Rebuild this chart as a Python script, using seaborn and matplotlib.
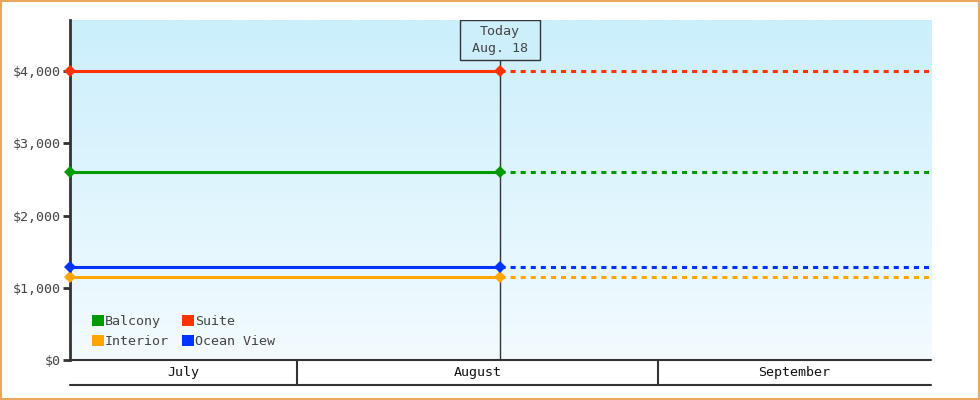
import numpy as np
import pandas as pd
import matplotlib
matplotlib.use("Agg")
import matplotlib.pyplot as plt
import matplotlib.dates as mdates
import matplotlib.transforms as mtransforms
from matplotlib.patches import Rectangle
import seaborn as sns

# data
cabins = ["Balcony", "Interior", "Suite", "Ocean View"]
prices = [2600, 1150, 4000, 1290]
colors = ["#009900", "#ffa500", "#ff3300", "#0033ff"]
start = pd.Timestamp("2024-07-12 10:00")
today = pd.Timestamp("2024-08-18 10:00")
end = pd.Timestamp("2024-09-24 13:00")
months = ["July", "August", "September"]
month_starts = [pd.Timestamp("2024-07-01"), pd.Timestamp("2024-08-01"), pd.Timestamp("2024-09-01"),
                pd.Timestamp("2024-10-01")]
y_ticks = [0, 1000, 2000, 3000, 4000]

sns.set_theme(style="white")
plt.rcParams["font.family"] = ["DejaVu Sans Mono"]
ink = "#333333"
fs = 9.6

fig = plt.figure(figsize=(9.8, 4), dpi=100)
ax = fig.add_axes([70 / 980, 40 / 400, 861 / 980, 340 / 400])

# long tables: solid part up to today, dashed part after
past = pd.DataFrame([(c, d, p) for c, p in zip(cabins, prices) for d in (start, today)],
                    columns=["cabin", "date", "price"])
future = pd.DataFrame([(c, d, p) for c, p in zip(cabins, prices) for d in (today, end)],
                      columns=["cabin", "date", "price"])
pal = dict(zip(cabins, colors))

sns.lineplot(data=past, x="date", y="price", hue="cabin", palette=pal, hue_order=cabins,
             linewidth=2.2, marker="D", markersize=6, markeredgewidth=0, ax=ax, legend=False,
             zorder=5, clip_on=False)
sns.lineplot(data=future, x="date", y="price", hue="cabin", palette=pal, hue_order=cabins,
             linewidth=2.2, ax=ax, legend=False, zorder=4)
for ln in ax.lines[len(cabins):]:
    ln.set_dashes([1.65, 1.65])

# gradient background
grad = np.linspace(0, 1, 256).reshape(-1, 1)
cmap = matplotlib.colors.LinearSegmentedColormap.from_list("bg", ["#f3fbff", "#cbeffc"])
ax.imshow(grad, cmap=cmap, origin="lower", aspect="auto", extent=[0, 1, 0, 1],
          transform=ax.transAxes, zorder=0)
ax.set_xlim(start, end)
ax.set_ylim(0, 4706)

# axes styling
for s in ["top", "right", "bottom"]:
    ax.spines[s].set_visible(False)
ax.spines["left"].set_color(ink)
ax.spines["left"].set_linewidth(2)
ax.set_yticks(y_ticks)
ax.set_yticklabels([f"${v:,}" for v in y_ticks])
ax.tick_params(axis="y", left=True, length=5, width=2, color=ink, labelsize=fs, labelcolor="#444444", pad=2)
ax.set_xticks([])
ax.set_xlabel("")
ax.set_ylabel("")
ax.grid(False)

# today marker with its label box
lo_num, hi_num = mdates.date2num(start), mdates.date2num(end)
tx = (mdates.date2num(today) - lo_num) / (hi_num - lo_num)
box_w, box_h = 80 / 861, 40 / 340
trans = mtransforms.blended_transform_factory(ax.transData, ax.transAxes)
ax.plot([today, today], [0, 1 - box_h], color=ink, linewidth=1, transform=trans, zorder=3)
ax.add_patch(Rectangle((tx - box_w / 2, 1 - box_h), box_w, box_h, transform=ax.transAxes,
                       facecolor="#cdeffc", edgecolor=ink, linewidth=1, zorder=6))
ax.text(tx, 1 - box_h / 2, "Today\nAug. 18", transform=ax.transAxes, ha="center", va="center",
        fontsize=fs, color="#444444", linespacing=1.35, zorder=7)

# month row below the plot
row_h = 25 / 340
ax.plot([0, 1], [0, 0], color=ink, linewidth=1.5, transform=ax.transAxes, clip_on=False, zorder=6)
ax.plot([0, 1], [-row_h, -row_h], color=ink, linewidth=1.5, transform=ax.transAxes, clip_on=False)
for i, m in enumerate(months):
    a = max(mdates.date2num(month_starts[i]), lo_num)
    b = min(mdates.date2num(month_starts[i + 1]), hi_num)
    if i > 0:
        ax.plot([a, a], [-row_h, 0], color=ink, linewidth=1.5, transform=trans, clip_on=False)
    ax.text((a + b) / 2, -row_h / 2, m, transform=trans, ha="center", va="center",
            fontsize=fs, color="#111111", clip_on=False)

# legend
handles = [Rectangle((0, 0), 1, 1, facecolor=c, edgecolor="none") for c in colors]
ax.legend(handles, cabins, ncol=2, loc="lower left", bbox_to_anchor=(0.012, 0.0), frameon=False,
          fontsize=fs, handlelength=0.85, handleheight=0.85, handletextpad=0.1,
          columnspacing=1.0, labelspacing=0.5, labelcolor="#444444")

# orange frame around the figure
fig.patches.append(Rectangle((0.001, 0.002), 0.998, 0.996, transform=fig.transFigure,
                             fill=False, edgecolor="#e8a860", linewidth=1.5))

fig.savefig("out.png", dpi=100)
